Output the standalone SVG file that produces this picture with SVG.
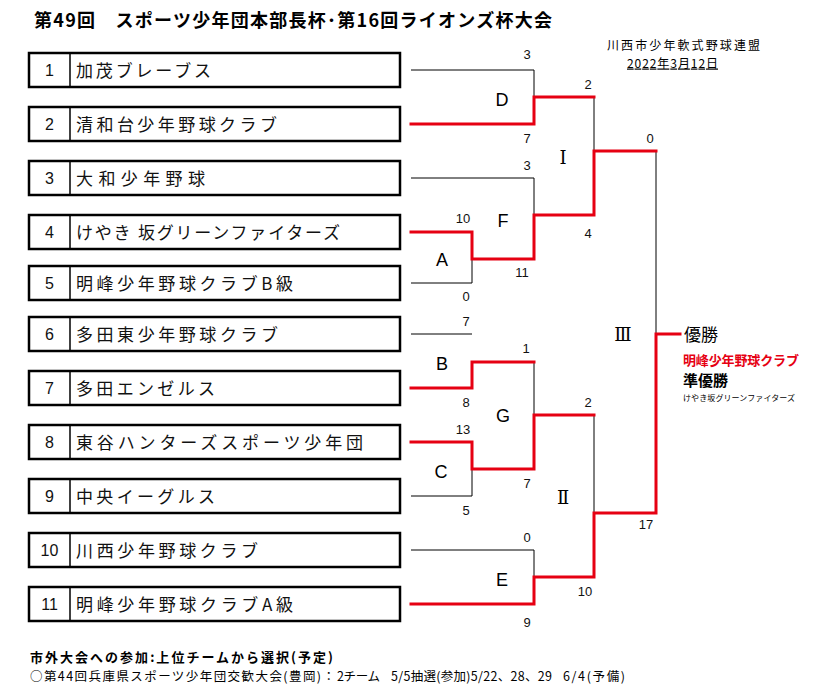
<svg xmlns="http://www.w3.org/2000/svg" width="819" height="692" viewBox="0 0 819 692">
<style>
.bg{fill:#fff}
.box rect{fill:#fff;stroke:#000;stroke-width:2.5}
.box line{stroke:#000;stroke-width:1.5}
.num{font-family:"Liberation Sans",Arial,sans-serif;font-size:16px;text-anchor:middle;fill:#111}
.name{font-family:"Noto Sans CJK JP","Noto Sans CJK SC",sans-serif;font-size:17px;fill:#111}
.ln{fill:none;stroke:#000;stroke-width:1}
.rd{fill:none;stroke:#e60012;stroke-width:3;stroke-linecap:square;stroke-linejoin:miter}
.sc{font-family:"Liberation Sans",Arial,sans-serif;font-size:13px;text-anchor:middle;fill:#111}
.mk{font-family:"Liberation Sans",Arial,sans-serif;font-size:18px;text-anchor:middle;fill:#000}
.rn{font-family:"DejaVu Serif","Liberation Serif",serif;font-size:18px;text-anchor:middle;fill:#000}
.jp{font-family:"Noto Sans CJK JP","Noto Sans CJK SC",sans-serif;fill:#000}
</style>
<rect class="bg" x="0" y="0" width="819" height="692"/>

<text class="jp" x="34" y="27" font-size="18" font-weight="bold" textLength="518">第49回　スポーツ少年団本部長杯･第16回ライオンズ杯大会</text>
<text class="jp" x="607" y="49.5" font-size="12" textLength="153">川西市少年軟式野球連盟</text>
<text class="jp" x="627" y="67.5" font-size="12" textLength="91" text-decoration="underline">2022年3月12日</text>

<g id="team-1" class="box"><rect x="29" y="53" width="371" height="34"/><line x1="70" y1="53" x2="70" y2="87"/><text class="num" x="49.5" y="75.7">1</text><text class="name" x="76" y="76.5" textLength="135">加茂ブレーブス</text></g>
<g id="team-2" class="box"><rect x="29" y="107" width="371" height="34"/><line x1="70" y1="107" x2="70" y2="141"/><text class="num" x="49.5" y="129.7">2</text><text class="name" x="76" y="130.5" textLength="201">清和台少年野球クラブ</text></g>
<g id="team-3" class="box"><rect x="29" y="161" width="371" height="34"/><line x1="70" y1="161" x2="70" y2="195"/><text class="num" x="49.5" y="183.7">3</text><text class="name" x="76" y="184.5" textLength="129">大和少年野球</text></g>
<g id="team-4" class="box"><rect x="29" y="215" width="371" height="34"/><line x1="70" y1="215" x2="70" y2="249"/><text class="num" x="49.5" y="237.7">4</text><text class="name" x="76" y="238.5" textLength="264">けやき 坂グリーンファイターズ</text></g>
<g id="team-5" class="box"><rect x="29" y="266" width="371" height="34"/><line x1="70" y1="266" x2="70" y2="300"/><text class="num" x="49.5" y="288.7">5</text><text class="name" x="76" y="289.5" textLength="217">明峰少年野球クラブB級</text></g>
<g id="team-6" class="box"><rect x="29" y="317" width="371" height="34"/><line x1="70" y1="317" x2="70" y2="351"/><text class="num" x="49.5" y="339.7">6</text><text class="name" x="76" y="340.5" textLength="202">多田東少年野球クラブ</text></g>
<g id="team-7" class="box"><rect x="29" y="371" width="371" height="34"/><line x1="70" y1="371" x2="70" y2="405"/><text class="num" x="49.5" y="393.7">7</text><text class="name" x="76" y="394.5" textLength="139">多田エンゼルス</text></g>
<g id="team-8" class="box"><rect x="29" y="425" width="371" height="34"/><line x1="70" y1="425" x2="70" y2="459"/><text class="num" x="49.5" y="447.7">8</text><text class="name" x="76" y="448.5" textLength="287">東谷ハンターズスポーツ少年団</text></g>
<g id="team-9" class="box"><rect x="29" y="479" width="371" height="34"/><line x1="70" y1="479" x2="70" y2="513"/><text class="num" x="49.5" y="501.7">9</text><text class="name" x="76" y="502.5" textLength="139">中央イーグルス</text></g>
<g id="team-10" class="box"><rect x="29" y="533" width="371" height="34"/><line x1="70" y1="533" x2="70" y2="567"/><text class="num" x="49.5" y="555.7">10</text><text class="name" x="76" y="556.5" textLength="182">川西少年野球クラブ</text></g>
<g id="team-11" class="box"><rect x="29" y="587" width="371" height="34"/><line x1="70" y1="587" x2="70" y2="621"/><text class="num" x="49.5" y="609.7">11</text><text class="name" x="76" y="610.5" textLength="217">明峰少年野球クラブA級</text></g>

<g id="connectors">
<path class="ln" d="M411 70H534V97"/>
<path class="ln" d="M594 97V151"/>
<path class="ln" d="M411 178H534V215"/>
<path class="ln" d="M411 283H472V259"/>
<path class="ln" d="M656 151V334"/>
<path class="ln" d="M411 334H472"/>
<path class="ln" d="M534 362V415"/>
<path class="ln" d="M411 496H472V469"/>
<path class="ln" d="M594 415V513"/>
<path class="ln" d="M411 550H534V577"/>
<path class="rd" d="M411 124H534V97H594"/>
<path class="rd" d="M411 232H472V259H534V215H594V151H656"/>
<path class="rd" d="M411 388H472V362H534"/>
<path class="rd" d="M411 442H472V469H534V415H594"/>
<path class="rd" d="M411 604H534V577H594V513H656V334H680"/>
</g>

<g id="scores">
<text class="sc" x="527" y="59">3</text>
<text class="sc" x="527" y="143">7</text>
<text class="sc" x="527" y="170">3</text>
<text class="sc" x="588" y="89">2</text>
<text class="sc" x="650" y="143">0</text>
<text class="sc" x="463" y="223">10</text>
<text class="sc" x="588" y="238">4</text>
<text class="sc" x="522" y="277">11</text>
<text class="sc" x="466" y="301">0</text>
<text class="sc" x="466" y="326">7</text>
<text class="sc" x="526" y="353">1</text>
<text class="sc" x="466" y="407">8</text>
<text class="sc" x="588" y="407">2</text>
<text class="sc" x="463" y="434">13</text>
<text class="sc" x="527" y="488">7</text>
<text class="sc" x="466" y="515">5</text>
<text class="sc" x="527" y="542">0</text>
<text class="sc" x="646" y="529">17</text>
<text class="sc" x="585" y="596">10</text>
<text class="sc" x="527" y="627">9</text>
</g>

<g id="match-D"><text class="mk" x="502" y="106">D</text></g>
<g id="match-F"><text class="mk" x="503" y="227">F</text></g>
<g id="match-A"><text class="mk" x="442" y="266">A</text></g>
<g id="match-B"><text class="mk" x="442" y="370">B</text></g>
<g id="match-G"><text class="mk" x="503" y="422">G</text></g>
<g id="match-C"><text class="mk" x="441" y="478">C</text></g>
<g id="match-E"><text class="mk" x="502" y="586">E</text></g>
<g id="match-I"><text class="rn" x="563" y="164">Ⅰ</text></g>
<g id="match-III"><text class="rn" x="623" y="341">Ⅲ</text></g>
<g id="match-II"><text class="rn" x="563" y="504">Ⅱ</text></g>

<g id="result">
<text class="jp" x="684" y="341" font-size="17">優勝</text>
<text class="jp" x="683" y="365" font-size="13" font-weight="bold" fill="#e60012" style="fill:#e60012" textLength="116">明峰少年野球クラブ</text>
<text class="jp" x="683" y="386" font-size="15" font-weight="bold" textLength="45">準優勝</text>
<text class="jp" x="683" y="401" font-size="8" textLength="112">けやき坂グリーンファイターズ</text>
</g>

<g id="notes">
<text class="jp" x="30" y="662" font-size="13" font-weight="bold" textLength="303">市外大会への参加:上位チームから選択(予定)</text>
<text class="jp" x="30" y="680.5" font-size="12.5"><tspan x="30" textLength="305">○第44回兵庫県スポーツ少年団交歓大会(豊岡)：</tspan> <tspan x="337" textLength="43">2チーム</tspan> <tspan x="391" textLength="161">5/5抽選(参加)5/22、28、29</tspan> <tspan x="563" textLength="62">6/4(予備)</tspan></text>
</g>
</svg>
